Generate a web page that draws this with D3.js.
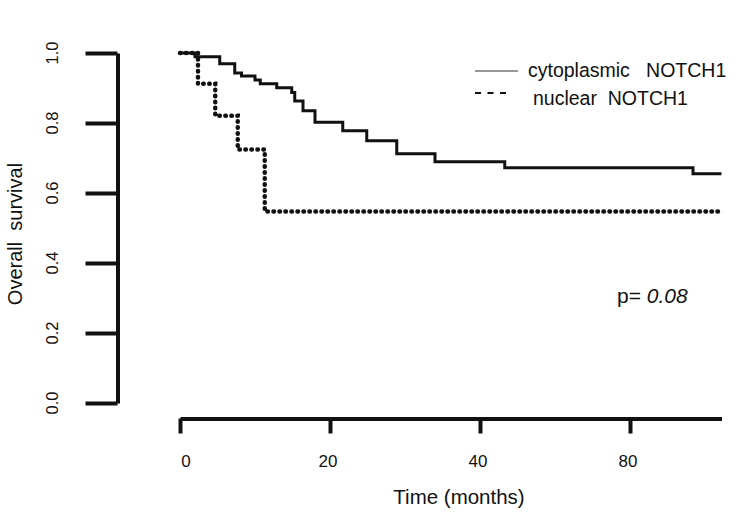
<!DOCTYPE html>
<html>
<head>
<meta charset="utf-8">
<script src="https://cdn.jsdelivr.net/npm/d3@7"></script>
<style>
  body { margin: 0; background: #fff; }
  text { font-family: "Liberation Sans", Arial, sans-serif; fill: #111; white-space: pre; }
</style>
</head>
<body>
<figure id="km" style="margin:0"></figure>
<script>
// Kaplan-Meier steps (months, survival)
const cytoTimes = [0, 2.0, 5.3, 7.3, 8.2, 10.0, 10.7, 12.9, 14.9, 15.3, 16.4, 18.0, 21.7, 24.9, 28.9, 34.0, 43.3, 68.4, 72.2];
const cytoSurv  = [1, 0.989, 0.969, 0.943, 0.934, 0.923, 0.912, 0.901, 0.887, 0.863, 0.835, 0.802, 0.778, 0.749, 0.712, 0.689, 0.672, 0.655, 0.655];

const nucTimes = [0, 2.4, 4.7, 7.7, 11.3, 72.2];
const nucSurv  = [1, 0.912, 0.821, 0.724, 0.547, 0.547];

const yTicks = [0, 0.2, 0.4, 0.6, 0.8, 1.0];
const yTickLabels = ["0.0", "0.2", "0.4", "0.6", "0.8", "1.0"];
const xTicks = [0, 20, 40, 60];
const xTickLabels = ["0", "20", "40", "80"];   // as printed in the original
const xMax = 72.2;

const legendLabels = ["cytoplasmic   NOTCH1", "nuclear  NOTCH1"];
const pLabel = "p= ";
const pValue = "0.08";

const width = 743, height = 519;

const svg = d3.select("figure#km")
  .append("svg")
  .attr("width", width)
  .attr("height", height);

const x = d3.scaleLinear().domain([0, xMax]).range([180, 180 + xMax * 7.5]);
const y = d3.scaleLinear().domain([0, 1]).range([403, 53]);

// y axis
const yAxis = svg.append("g")
  .attr("transform", "translate(117.5,0)")
  .call(d3.axisLeft(y).tickValues(yTicks).tickSize(32).tickSizeOuter(0).tickFormat(""));
yAxis.selectAll("path, line").attr("stroke", "#111").attr("stroke-width", 4);

svg.selectAll(".ylab")
  .data(yTicks)
  .enter()
  .append("text")
  .attr("transform", d => "translate(58," + y(d) + ") rotate(-90)")
  .attr("text-anchor", "middle")
  .style("font-size", "16.5px")
  .text((d, i) => yTickLabels[i]);

svg.append("text")
  .attr("transform", "translate(22," + (y(0.5) + 6) + ") rotate(-90)")
  .attr("text-anchor", "middle")
  .style("font-size", "20px")
  .text("Overall  survival");

// x axis
const xAxis = svg.append("g")
  .attr("transform", "translate(0,418.5)")
  .call(d3.axisBottom(x).tickValues(xTicks).tickSize(15).tickSizeOuter(0).tickFormat(""));
xAxis.selectAll("path, line").attr("stroke", "#111").attr("stroke-width", 4);

svg.selectAll(".xlab")
  .data(xTicks)
  .enter()
  .append("text")
  .attr("x", d => x(d) + (d === 0 ? 6 : -2))
  .attr("y", 467)
  .attr("text-anchor", "middle")
  .style("font-size", "17px")
  .text((d, i) => xTickLabels[i]);

svg.append("text")
  .attr("x", 459)
  .attr("y", 504)
  .attr("text-anchor", "middle")
  .style("font-size", "20.5px")
  .text("Time (months)");

// curves
const line = d3.line()
  .x(d => x(d[0]))
  .y(d => y(d[1]))
  .curve(d3.curveStepAfter);

svg.append("path")
  .datum(nucTimes.map((t, i) => [t, nucSurv[i]]))
  .attr("d", line)
  .attr("fill", "none")
  .attr("stroke", "#111")
  .attr("stroke-width", 4.5)
  .attr("stroke-linecap", "round")
  .attr("stroke-dasharray", "0.5,5.5");

svg.append("path")
  .datum(cytoTimes.map((t, i) => [t, cytoSurv[i]]))
  .attr("d", line)
  .attr("fill", "none")
  .attr("stroke", "#111")
  .attr("stroke-width", 3);

// legend
svg.append("line")
  .attr("x1", 475).attr("x2", 518)
  .attr("y1", 71).attr("y2", 71)
  .attr("stroke", "#333").attr("stroke-width", 1);
svg.append("line")
  .attr("x1", 475).attr("x2", 510)
  .attr("y1", 93).attr("y2", 93)
  .attr("stroke", "#111").attr("stroke-width", 2)
  .attr("stroke-dasharray", "6,6.5");

svg.append("text").attr("x", 528).attr("y", 77).style("font-size", "19.5px").text(legendLabels[0]);
svg.append("text").attr("x", 533).attr("y", 105).style("font-size", "19.5px").text(legendLabels[1]);

// p value
const p = svg.append("text").attr("x", 617).attr("y", 303).style("font-size", "21px");
p.append("tspan").text(pLabel);
p.append("tspan").style("font-style", "italic").text(pValue);
</script>
</body>
</html>
